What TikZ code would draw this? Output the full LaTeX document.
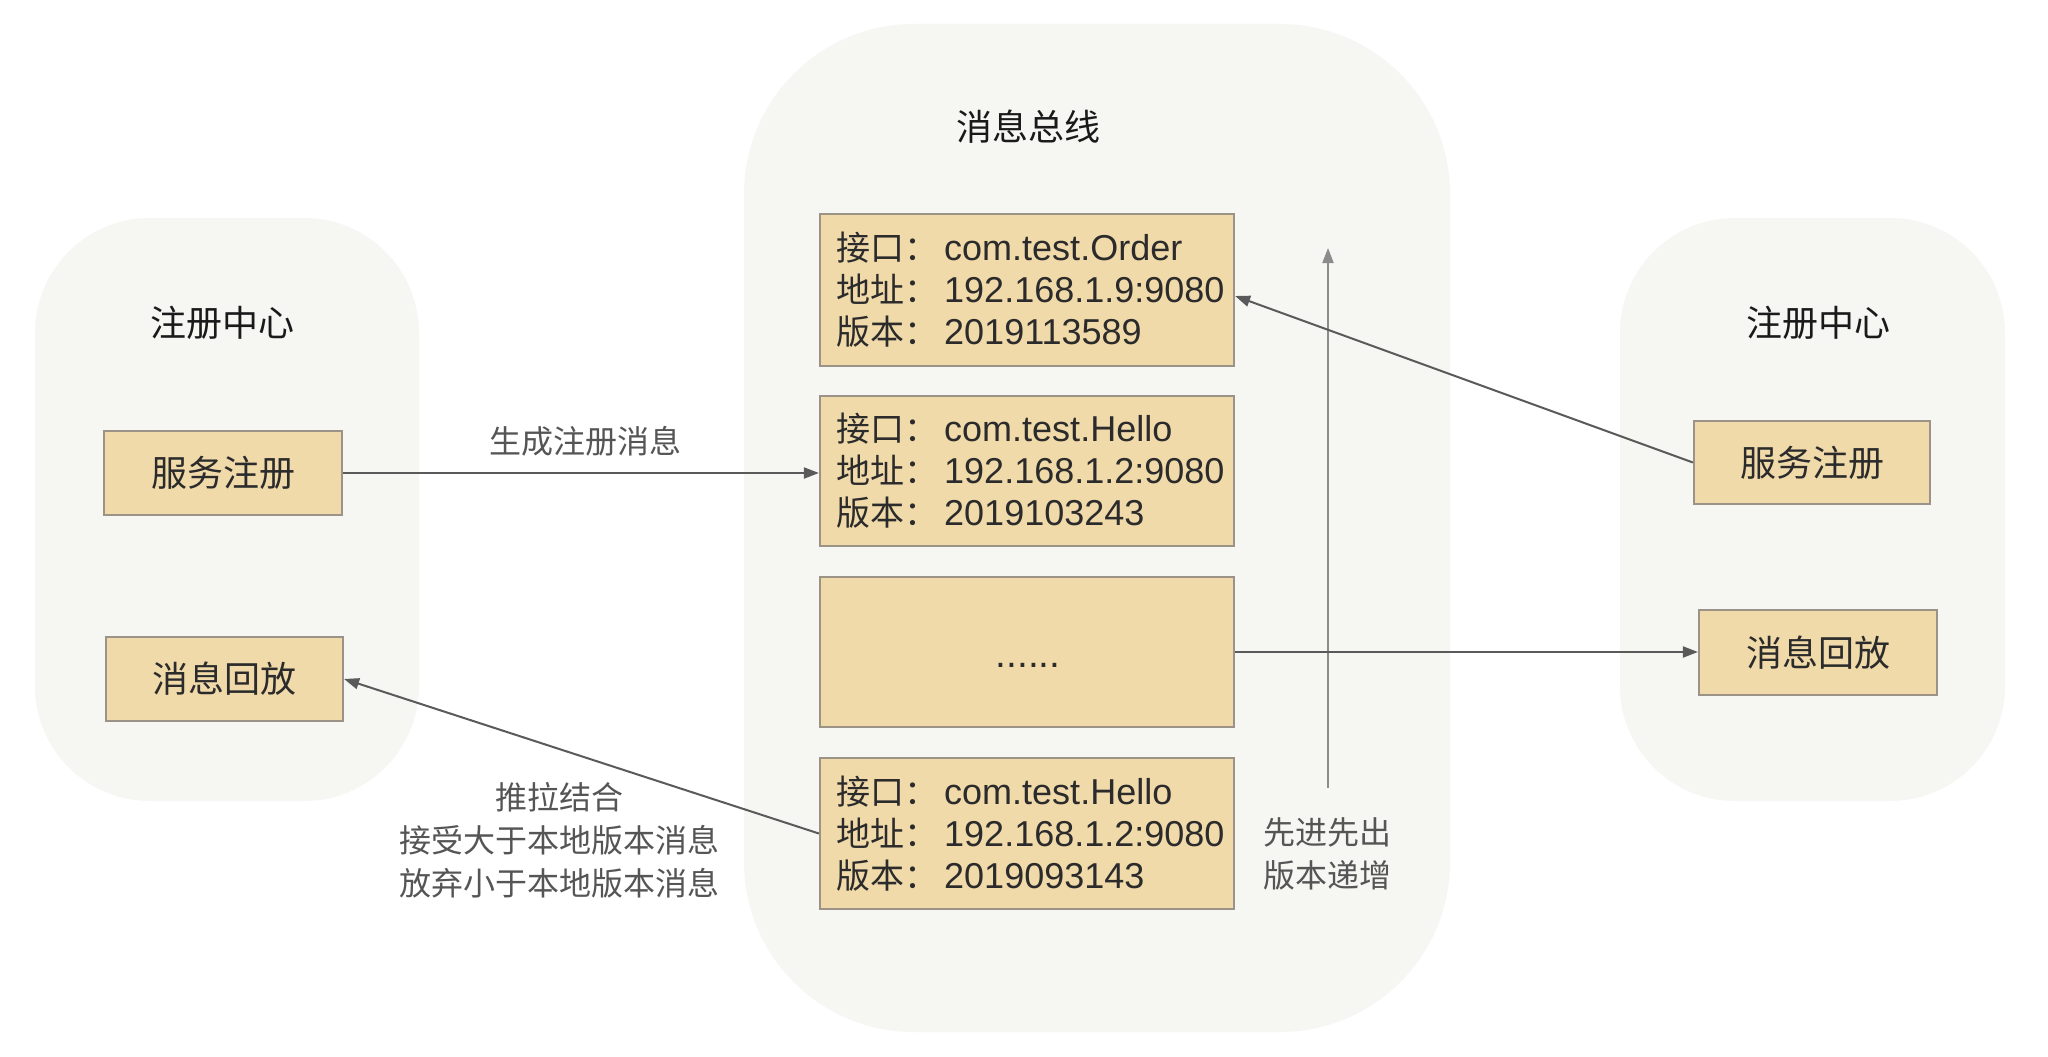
\documentclass[tikz,border=0pt]{standalone}
\usepackage{fontspec}
\setmainfont{Liberation Sans}
\newfontfamily\cjk{Noto Sans CJK SC}
\usetikzlibrary{arrows.meta,calc}
\definecolor{contbg}{HTML}{F6F6F3}
\definecolor{boxfill}{HTML}{F1DAAA}
\definecolor{boxline}{HTML}{9B9387}
\definecolor{arrowc}{HTML}{5A5A5A}
\definecolor{vline}{HTML}{8C8C8C}
\definecolor{labelc}{HTML}{555555}
\definecolor{titlec}{HTML}{1A1A1A}
\definecolor{textc}{HTML}{2B2B2B}
\newcommand\myzh[1]{{\cjk\fontsize{34}{42}\selectfont #1}\hspace{6pt}}
\tikzset{
  container/.style={fill=contbg, draw=none, rounded corners=#1},
  titletext/.style={text=titlec, font=\cjk\fontsize{36}{42}\selectfont},
  smallbox/.style={draw=boxline, fill=boxfill, line width=2.2pt, minimum width=237pt, minimum height=84pt, text=textc, font=\cjk\fontsize{36}{42}\selectfont},
  msgbox/.style={draw=boxline, fill=boxfill, line width=2.2pt, minimum width=414pt, minimum height=151pt},
  msgtext/.style={text=textc, align=left, anchor=west, font=\fontsize{36}{42}\selectfont, inner sep=0pt},
  arr/.style={draw=arrowc, line width=2pt, -{Triangle[length=15pt,width=11pt]}},
  lbl/.style={text=labelc, align=center, font=\cjk\fontsize{32}{43}\selectfont},
}
\begin{document}
\begin{tikzpicture}[x=1pt,y=-1pt]
\useasboundingbox[fill=white] (0,0) rectangle (2048,1057);

% containers
\node[container=115pt, minimum width=384pt, minimum height=583pt] (lcont) at (227,509.5) {};
\node[container=170pt, minimum width=706pt, minimum height=1008pt] (ccont) at (1097,528) {};
\node[container=115pt, minimum width=385pt, minimum height=583pt] (rcont) at (1812.5,509.5) {};

% titles
\node[titletext] (ltitle) at (222,323) {注册中心};
\node[titletext] (ctitle) at (1028,127) {消息总线};
\node[titletext] (rtitle) at (1818,323) {注册中心};

% left boxes
\node[smallbox, minimum width=238pt] (lreg) at (223,473) {服务注册};
\node[smallbox] (lplay) at (224.5,679) {消息回放};

% right boxes
\node[smallbox, minimum width=236pt, minimum height=83pt] (rreg) at (1812,462.5) {服务注册};
\node[smallbox, minimum width=238pt, minimum height=85pt] (rplay) at (1818,652.5) {消息回放};

% message bus boxes
\node[msgbox, minimum height=152pt] (m1) at (1027,290) {};
\node[msgbox, minimum height=150pt] (m2) at (1027,471) {};
\node[msgbox, minimum height=150pt] (m3) at (1027,652) {};
\node[msgbox, minimum height=151pt] (m4) at (1027,833.5) {};

\node[msgtext] (t1) at (836,290) {\myzh{接口：}com.test.Order\\\myzh{地址：}192.168.1.9:9080\\\myzh{版本：}2019113589};
\node[msgtext] (t2) at (836,471) {\myzh{接口：}com.test.Hello\\\myzh{地址：}192.168.1.2:9080\\\myzh{版本：}2019103243};
\node[text=textc, anchor=base, font=\fontsize{39}{42}\selectfont] (t3) at (1028,667) {......};
\node[msgtext] (t4) at (836,833.5) {\myzh{接口：}com.test.Hello\\\myzh{地址：}192.168.1.2:9080\\\myzh{版本：}2019093143};

% FIFO arrow
\coordinate (fifoS) at (1328,788);
\coordinate (fifoE) at (1328,248);
\draw[draw=vline, line width=2pt, -{Triangle[length=15pt,width=11pt]}, color=vline] (fifoS) -- (fifoE);
\node[lbl] (fifolbl) at (1327,854) {先进先出\\版本递增};

% connectors
\draw[arr] (lreg.east) -- (lreg.east -| m2.west);
\node[lbl] (genlbl) at (585,441) {生成注册消息};
\draw[arr] (rreg.west) -- ($(m1.east)+(0,6)$);
\draw[arr] (m3.east) -- (m3.east -| rplay.west);
\draw[arr] (m4.west) -- (lplay.east);
\node[lbl] (pulllbl) at (559,840) {推拉结合\\接受大于本地版本消息\\放弃小于本地版本消息};
\end{tikzpicture}
\end{document}
